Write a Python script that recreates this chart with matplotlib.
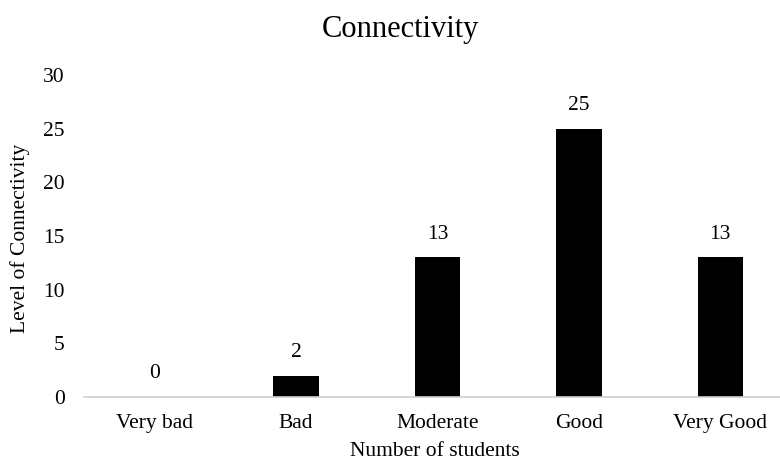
import matplotlib
matplotlib.use("Agg")
import matplotlib.pyplot as plt

categories = ["Very bad", "Bad", "Moderate", "Good", "Very Good"]
students = [0, 2, 13, 25, 13]
y_ticks = [0, 5, 10, 15, 20, 25, 30]

plt.rcParams['font.family'] = ['Liberation Serif', 'DejaVu Serif']
fs = 15.5

fig = plt.figure(figsize=(7.8, 4.62), dpi=100)
ax = fig.add_axes([84 / 780, 65 / 462, (791 - 84) / 780, 322 / 462])

x = range(len(categories))
bars = ax.bar(x, students, width=0.32, color="black")
for b, v in zip(bars, students):
    ax.text(b.get_x() + b.get_width() / 2, v + 1.3, str(v),
            ha="center", va="bottom", fontsize=fs)

ax.set_xlim(-0.5, len(categories) - 0.5)
ax.set_ylim(0, 30)
ax.set_yticks(y_ticks)
ax.set_xticks(list(x))
ax.set_xticklabels(categories)
ax.tick_params(axis="both", length=0, labelsize=fs)
ax.tick_params(axis="x", pad=12)
ax.tick_params(axis="y", pad=14)

for side in ["top", "right", "left"]:
    ax.spines[side].set_visible(False)
ax.spines["bottom"].set_color("#d0d0d0")
ax.spines["bottom"].set_linewidth(1.2)

fig.text(435 / 780, 1 - 451 / 462, "Number of students", ha="center", va="center", fontsize=fs)
fig.text(20 / 780, 1 - 238 / 462, "Level of Connectivity", ha="center", va="center",
         rotation=90, fontsize=fs)
fig.text(400 / 780, 1 - 30 / 462, "Connectivity", ha="center", va="center", fontsize=22)

fig.savefig("out.png", dpi=100)
